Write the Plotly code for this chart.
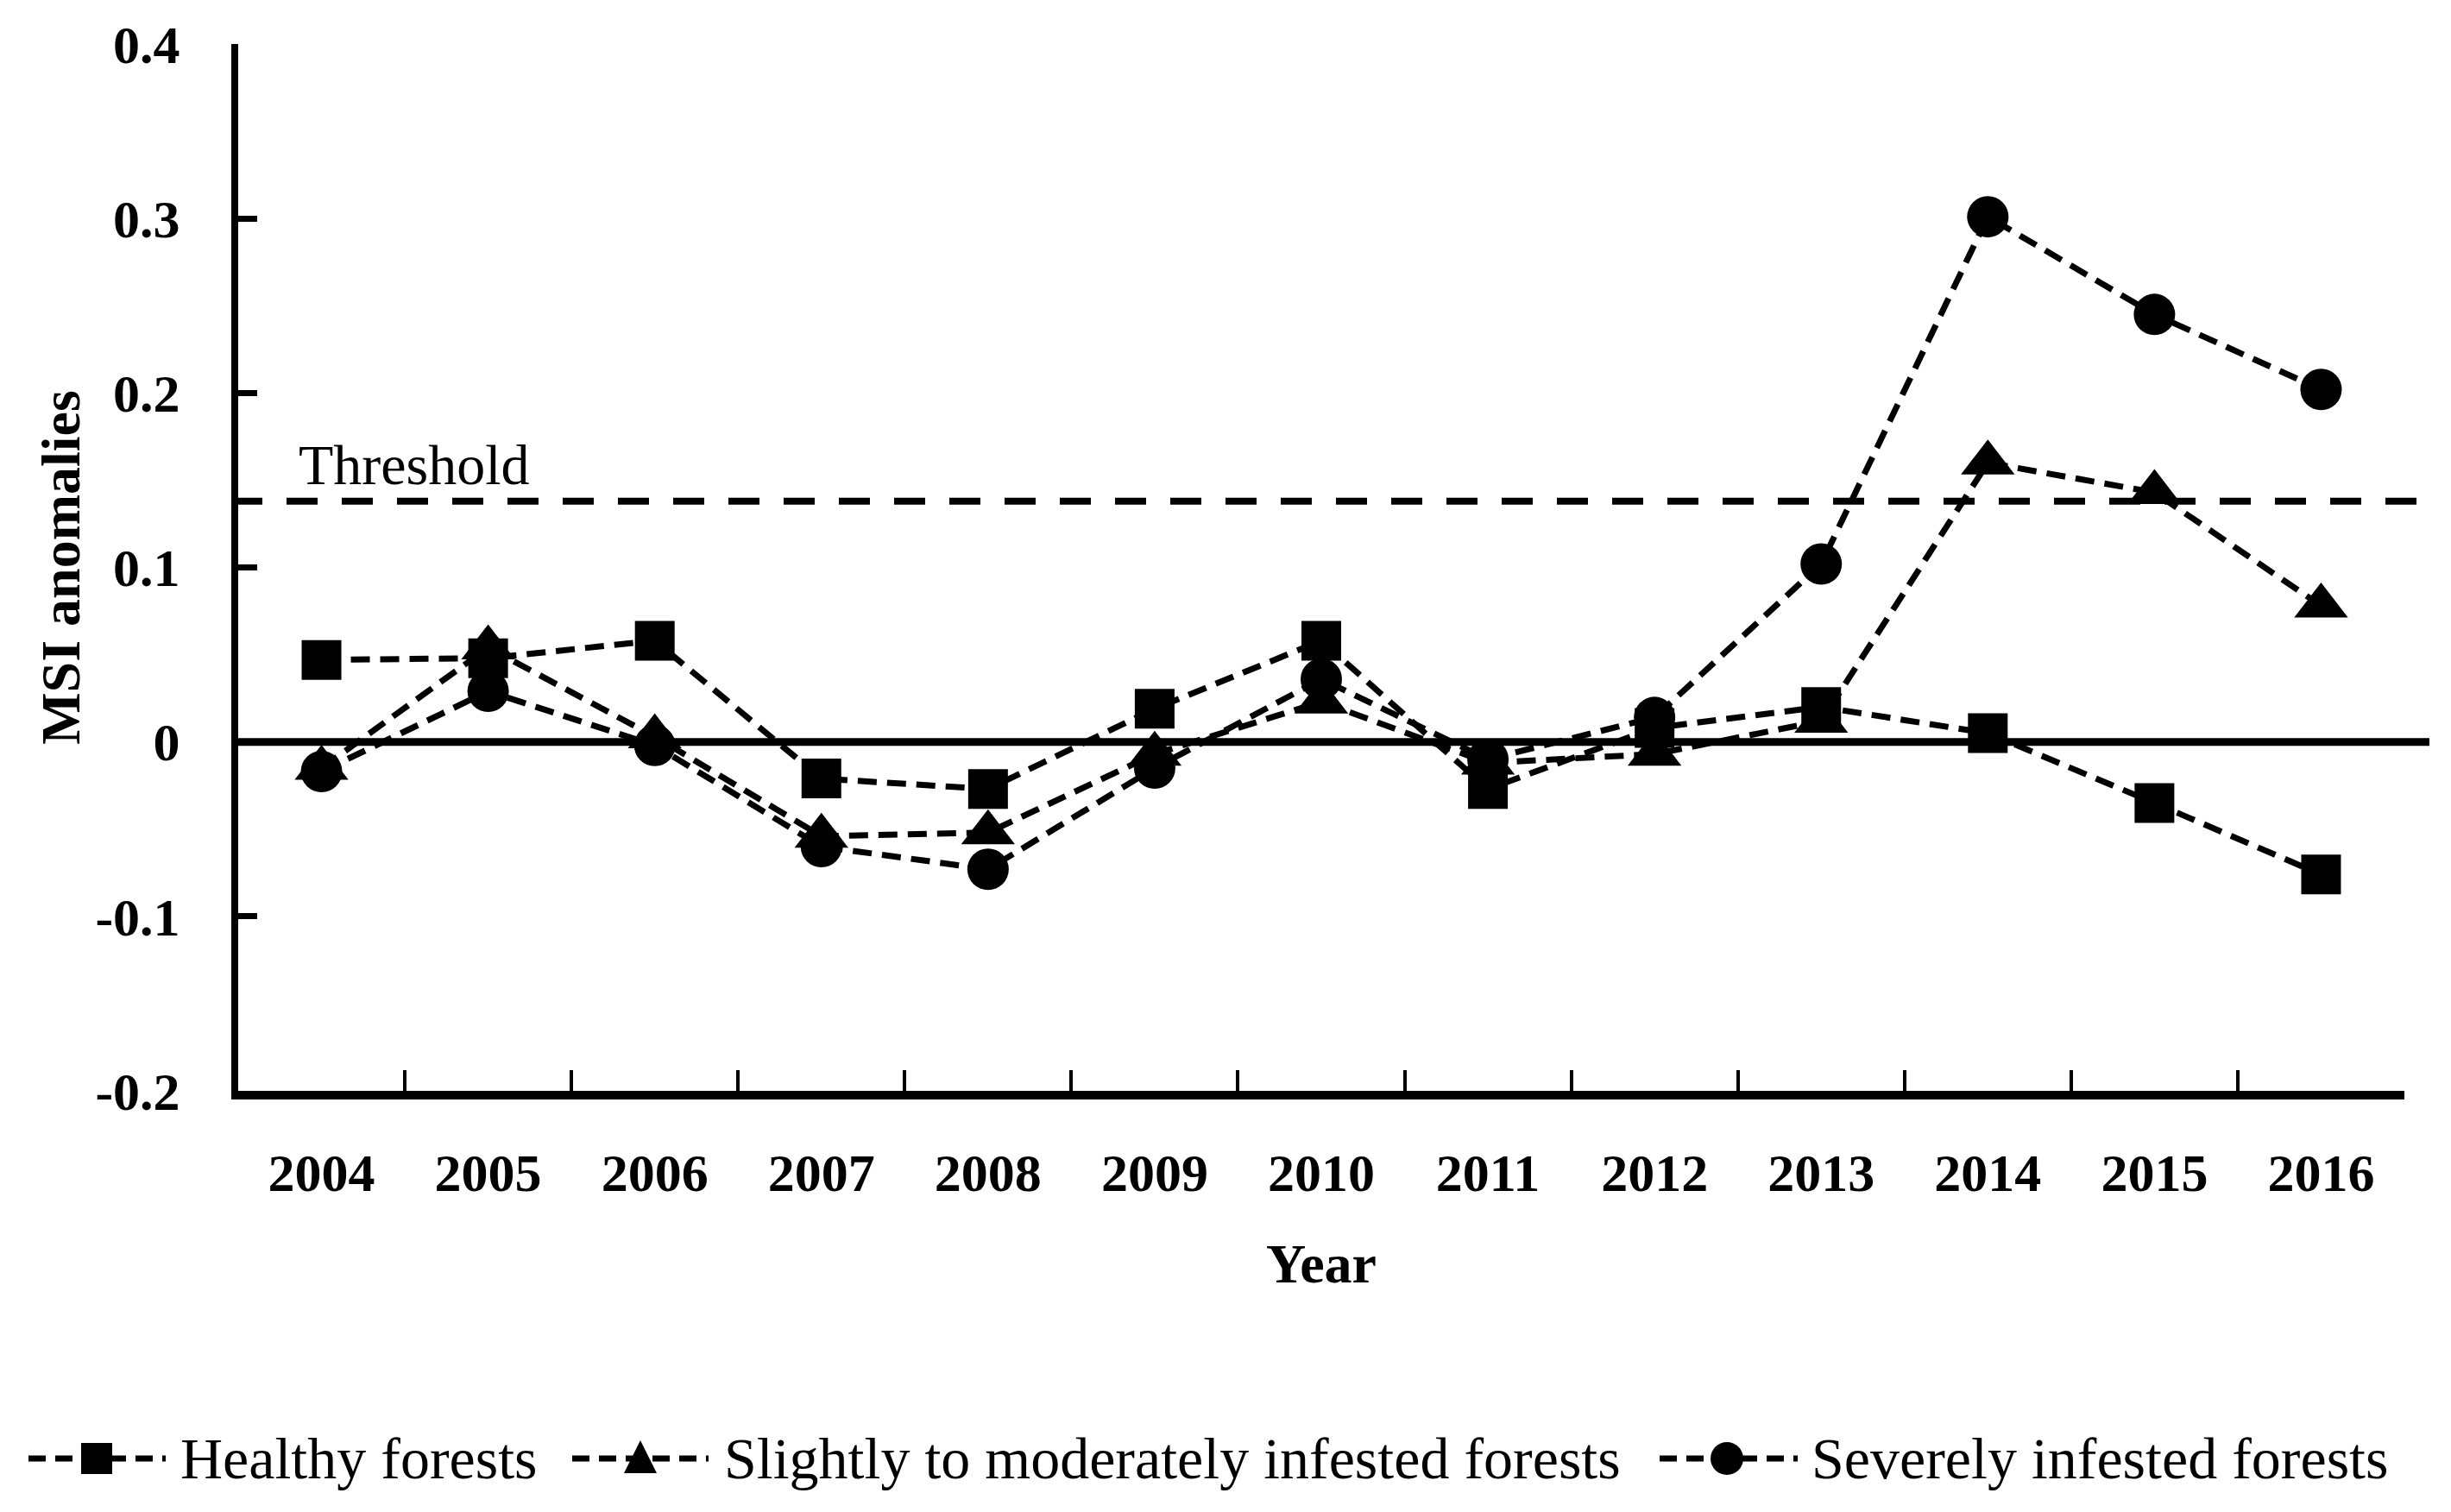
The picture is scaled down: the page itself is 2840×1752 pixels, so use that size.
import plotly.graph_objects as go

# ---------------- data ----------------
years = ["2004", "2005", "2006", "2007", "2008", "2009", "2010",
         "2011", "2012", "2013", "2014", "2015", "2016"]
healthy = [0.047, 0.048, 0.058, -0.021, -0.027, 0.019, 0.058,
           -0.027, 0.008, 0.020, 0.005, -0.035, -0.076]
slight = [-0.015, 0.054, 0.003, -0.054, -0.052, -0.007, 0.023,
          -0.012, -0.007, 0.012, 0.160, 0.143, 0.078]
severe = [-0.017, 0.029, -0.002, -0.060, -0.073, -0.015, 0.036,
          -0.010, 0.014, 0.102, 0.301, 0.245, 0.202]
threshold = 0.138
series_names = ["Healthy forests",
                "Slightly to moderately infested forests",
                "Severely infested forests"]
y_tick_vals = [-0.2, -0.1, 0, 0.1, 0.2, 0.3, 0.4]
y_tick_text = ["-0.2", "-0.1", "0", "0.1", "0.2", "0.3", "0.4"]

# ---------------- layout constants ----------------
W, H = 2840, 1752
ML, MR, MT, MB = 276, 54, 51, 488
PW = W - ML - MR
PH = H - MT - MB
FONT = "Liberation Serif"


def px_x(px):
    return (px - ML) / PW


def px_y(py):
    return (H - MB - py) / PH


fig = go.Figure()

symbols = ["square", "triangle-up", "circle"]
sizes = [46, 54, 48]
for name, vals, sym, sz in zip(series_names, [healthy, slight, severe], symbols, sizes):
    fig.add_trace(go.Scatter(
        x=years, y=vals, name=name, mode="lines+markers",
        line=dict(color="black", width=7, dash="22px,12px"),
        marker=dict(symbol=sym, size=sz, color="black"),
        cliponaxis=False, showlegend=False,
    ))

shapes = []
# zero line
shapes.append(dict(type="line", xref="paper", yref="y", x0=0, x1=px_x(2815),
                   y0=0, y1=0, line=dict(color="black", width=9), layer="below"))
# threshold line
shapes.append(dict(type="line", xref="paper", yref="y", x0=px_x(268), x1=px_x(2800),
                   y0=threshold, y1=threshold,
                   line=dict(color="black", width=8, dash="36px,28px"), layer="below"))

# custom legend
leg_y = px_y(1690)
leg_items = [
    (33, 192, 112, 207, "square"),
    (663, 821, 742, 837, "triangle"),
    (1923, 2083, 2001, 2097, "circle"),
]
annotations = []
for (lx0, lx1, mx, tx, kind), name in zip(leg_items, series_names):
    shapes.append(dict(type="line", xref="paper", yref="paper",
                       x0=px_x(lx0), x1=px_x(lx1), y0=leg_y, y1=leg_y,
                       line=dict(color="black", width=7, dash="20px,11px")))
    common = dict(xref="paper", yref="paper", xsizemode="pixel", ysizemode="pixel",
                  xanchor=px_x(mx), yanchor=leg_y,
                  fillcolor="black", line=dict(color="black", width=0))
    if kind == "square":
        shapes.append(dict(type="rect", x0=-18, x1=18, y0=-18, y1=18, **common))
    elif kind == "circle":
        shapes.append(dict(type="circle", x0=-19, x1=19, y0=-19, y1=19, **common))
    else:
        shapes.append(dict(type="path", path="M-19,-17 L19,-17 L0,21 Z", **common))
    annotations.append(dict(text=name, xref="paper", yref="paper",
                            x=px_x(tx), y=leg_y, xanchor="left", yanchor="middle",
                            showarrow=False,
                            font=dict(family=FONT, size=68, color="black")))

annotations.append(dict(text="Threshold", xref="paper", yref="y",
                        x=px_x(344), y=threshold, xanchor="left", yanchor="bottom",
                        yshift=4, showarrow=False,
                        font=dict(family=FONT, size=66, color="black")))

fig.update_layout(
    width=W, height=H,
    margin=dict(l=ML, r=MR, t=MT, b=MB, pad=0),
    paper_bgcolor="white", plot_bgcolor="white",
    showlegend=False,
    shapes=shapes, annotations=annotations,
    xaxis=dict(
        type="category", range=[-0.5, 12.5],
        showline=True, linecolor="black", linewidth=10,
        ticks="inside", tickson="boundaries", ticklen=24, tickwidth=4, tickcolor="black",
        tickfont=dict(family=FONT, size=62, color="black", weight="bold"),
        ticklabelstandoff=32,
        showgrid=False, zeroline=False, automargin=False,
        title=dict(text="Year", standoff=53,
                   font=dict(family=FONT, size=64, color="black", weight="bold")),
    ),
    yaxis=dict(
        range=[-0.2, 0.4], tickvals=y_tick_vals, ticktext=y_tick_text,
        showline=True, linecolor="black", linewidth=8,
        ticks="inside", ticklen=22, tickwidth=7, tickcolor="black",
        tickfont=dict(family=FONT, size=62, color="black", weight="bold"),
        ticklabelstandoff=47,
        showgrid=False, zeroline=False, automargin=False,
        title=dict(text="MSI anomalies", standoff=0,
                   font=dict(family=FONT, size=64, color="black", weight="bold")),
    ),
)

fig.write_html("out.html", config={"displayModeBar": False},
               post_script="document.body.style.margin='0';")
